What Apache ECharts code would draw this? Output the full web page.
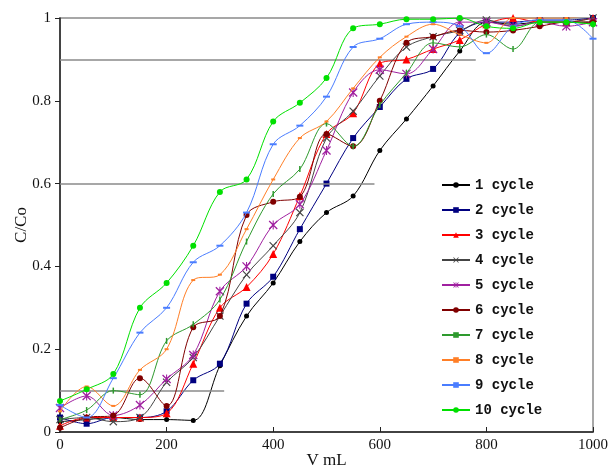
<!DOCTYPE html>
<html>
<head>
<meta charset="utf-8">
<script src="https://cdn.jsdelivr.net/npm/echarts@6/dist/echarts.min.js"></script>
<style>
html,body{margin:0;padding:0;background:#fff;}
#main{width:610px;height:471px;}
</style>
</head>
<body>
<div id="main"></div>
<script>
// 体积 (mL)
var vol = [0,50,100,150,200,250,300,350,400,450,500,550,600,650,700,750,800,850,900,950,1000];
var names = ['1 cycle','2 cycle','3 cycle','4 cycle','5 cycle','6 cycle','7 cycle','8 cycle','9 cycle','10 cycle'];
var yTicks = [0,0.2,0.4,0.6,0.8,1];
// C/Co
var c1 = [0.025,0.03,0.035,0.03,0.03,0.028,0.16,0.28,0.36,0.46,0.53,0.57,0.68,0.756,0.836,0.92,0.99,0.985,0.99,0.99,0.99];
var c2 = [0.035,0.02,0.035,0.035,0.05,0.125,0.165,0.31,0.375,0.49,0.60,0.71,0.785,0.853,0.877,0.964,0.99,0.99,0.995,0.995,1.0];
var c3 = [0.015,0.035,0.035,0.035,0.045,0.165,0.30,0.35,0.43,0.57,0.72,0.77,0.89,0.90,0.925,0.947,0.985,1.0,0.99,0.99,1.0];
var c4 = [0.03,0.035,0.025,0.035,0.12,0.18,0.28,0.38,0.45,0.53,0.71,0.775,0.86,0.93,0.955,0.97,0.995,0.98,0.99,0.99,1.0];
var c5 = [0.058,0.087,0.04,0.065,0.128,0.186,0.34,0.40,0.50,0.55,0.68,0.82,0.875,0.865,0.925,0.99,0.99,0.98,0.99,0.98,0.99];
var c6 = [0.01,0.035,0.04,0.13,0.063,0.253,0.28,0.524,0.556,0.568,0.72,0.69,0.80,0.94,0.955,0.97,0.966,0.97,0.98,0.99,0.99];
var c7 = [0.03,0.053,0.10,0.09,0.22,0.26,0.32,0.46,0.575,0.635,0.745,0.69,0.79,0.867,0.94,0.93,0.96,0.925,0.99,0.99,0.985];
var c8 = [0.05,0.11,0.063,0.15,0.20,0.367,0.38,0.49,0.61,0.71,0.75,0.83,0.905,0.955,0.985,0.96,0.94,1.0,1.0,1.0,1.01];
var c9 = [0.065,0.035,0.13,0.24,0.30,0.41,0.45,0.53,0.695,0.74,0.81,0.93,0.95,0.985,0.99,0.98,0.915,0.98,0.995,0.995,0.95];
var c10 = [0.075,0.103,0.14,0.30,0.36,0.45,0.58,0.61,0.75,0.795,0.855,0.975,0.985,0.997,0.997,1.0,0.98,0.975,0.99,0.99,0.985];
var allData = [c1,c2,c3,c4,c5,c6,c7,c8,c9,c10];
// 横线：[y值, 结束x]
var refLines = [[0.1,308],[0.6,590],[0.9,780]];

var colors = ['#000000','#000080','#ff0000','#444444','#a020a0','#800000','#2e9a2e','#ff7f27','#4a7dff','#00e000'];
var symbols = [
    'circle',
    'rect',
    'triangle',
    'path://M0,1L1,0L5,4L9,0L10,1L6,5L10,9L9,10L5,6L1,10L0,9L4,5Z',
    'path://M0,1L1,0L10,9L9,10Z M9,0L10,1L1,10L0,9Z M4.4,0L5.6,0L5.6,10L4.4,10Z',
    'circle',
    'rect',
    'rect',
    'rect',
    'circle'
];
var symSizes = [5,6,8,8,9,6,[1.5,6],[4,2],[7,2],6];

var myChart = echarts.init(document.getElementById('main'));

var series = [];
for (var i = 0; i < allData.length; i++) {
    var pts = [];
    for (var j = 0; j < vol.length; j++) {
        pts.push([vol[j], allData[i][j]]);
    }
    series.push({
        name: names[i],
        type: 'line',
        data: pts,
        smooth: 0.35,
        symbol: symbols[i],
        symbolSize: symSizes[i],
        showAllSymbol: true,
        lineStyle: {color: colors[i], width: 1},
        itemStyle: {color: colors[i]},
        emphasis: {disabled: true},
        z: 3 + i
    });
}
// 参考线
var mlData = [];
refLines.forEach(function (r) {
    mlData.push([{coord: [0, r[0]]}, {coord: [r[1], r[0]]}]);
});
series.push({
    type: 'line',
    data: [],
    silent: true,
    markLine: {
        symbol: 'none',
        silent: true,
        label: {show: false},
        lineStyle: {color: '#8a8a8a', width: 1.5, type: 'solid'},
        data: mlData
    }
});

var option = {
    animation: false,
    backgroundColor: '#fff',
    grid: {
        left: 60, right: 17, top: 18, bottom: 39,
        outerBoundsMode: 'none',
        show: true, borderColor: '#8a8a8a', borderWidth: 1.5
    },
    legend: {
        orient: 'vertical',
        left: 436,
        top: 172,
        itemWidth: 28,
        itemHeight: 7,
        itemGap: 9,
        data: names,
        textStyle: {
            fontFamily: 'Liberation Mono',
            fontWeight: 'bold',
            fontSize: 14,
            lineHeight: 16,
            color: '#111'
        }
    },
    xAxis: {
        type: 'value',
        min: 0, max: 1000, interval: 200,
        name: 'V mL',
        nameLocation: 'middle',
        nameGap: 20,
        nameMoveOverlap: false,
        nameTextStyle: {fontFamily: 'Liberation Serif', fontSize: 17, color: '#111'},
        axisLine: {lineStyle: {color: '#222', width: 1.5}},
        axisTick: {inside: true, length: 5, lineStyle: {color: '#222'}},
        axisLabel: {
            fontFamily: 'Liberation Serif', fontSize: 15, color: '#111', margin: 6,
            formatter: function (v) { return String(v); }
        },
        splitLine: {show: false}
    },
    yAxis: {
        type: 'value',
        min: 0, max: 1, interval: 0.2,
        name: 'C/Co',
        nameLocation: 'middle',
        nameGap: 30,
        nameMoveOverlap: false,
        nameTextStyle: {fontFamily: 'Liberation Serif', fontSize: 17, color: '#111'},
        axisLine: {show: true, lineStyle: {color: '#222', width: 1.5}},
        axisTick: {show: true, inside: false, length: 5, lineStyle: {color: '#222'}},
        axisLabel: {
            fontFamily: 'Liberation Serif', fontSize: 15, color: '#111', margin: 9,
            formatter: function (v) {
                var k = yTicks.indexOf(Math.round(v * 10) / 10);
                return k >= 0 ? String(yTicks[k]) : '';
            }
        },
        splitLine: {show: false}
    },
    series: series
};
myChart.setOption(option);
</script>
</body>
</html>
